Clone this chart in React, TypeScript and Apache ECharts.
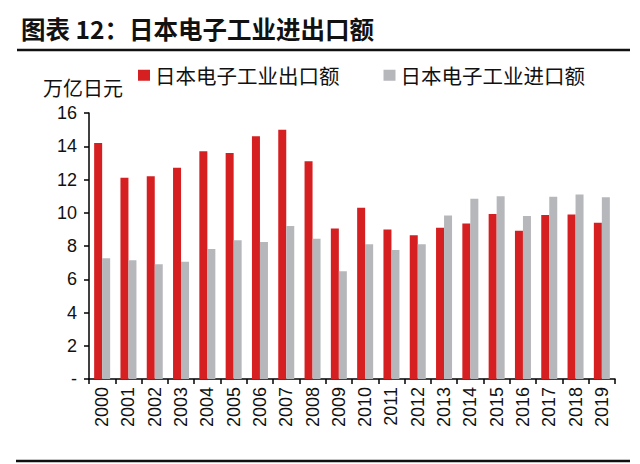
import React, { useEffect, useRef } from "react";
import * as echarts from "echarts";

const years = ["2000","2001","2002","2003","2004","2005","2006","2007","2008","2009","2010","2011","2012","2013","2014","2015","2016","2017","2018","2019"];
const exportValues = [14.2, 12.1, 12.2, 12.7, 13.7, 13.6, 14.6, 15.0, 13.1, 9.06, 10.3, 9.0, 8.64, 9.1, 9.36, 9.92, 8.92, 9.86, 9.9, 9.4];
const importValues = [7.26, 7.14, 6.9, 7.05, 7.82, 8.34, 8.24, 9.2, 8.44, 6.48, 8.1, 7.76, 8.1, 9.84, 10.84, 10.99, 9.8, 10.96, 11.1, 10.93];
const seriesNames = ["日本电子工业出口额", "日本电子工业进口额"];
const titleText = "图表 12：日本电子工业进出口额";
const unitText = "万亿日元";

export default function App() {
  const ref = useRef<HTMLDivElement>(null);
  useEffect(() => {
    document.body.style.margin = "0";
    const chart = echarts.init(ref.current!, null, { renderer: "svg" });
    chart.setOption({
      animation: false,
      backgroundColor: "#ffffff",
      textStyle: { fontFamily: "Liberation Sans, Arial, sans-serif" },
      graphic: [
        {
          type: "text",
          left: 21,
          top: 16,
          style: {
            text: titleText,
            font: "bold 24.5px 'Noto Sans CJK SC'",
            fill: "#111",
          },
        },
        {
          type: "line",
          shape: { x1: 17, y1: 50, x2: 630, y2: 50 },
          style: { stroke: "#111", lineWidth: 2.5 },
        },
        {
          type: "text",
          left: 43,
          top: 77,
          style: {
            text: unitText,
            font: "20px 'Noto Sans CJK SC'",
            fill: "#111",
          },
        },
        {
          type: "line",
          shape: { x1: 16, y1: 461, x2: 630, y2: 461 },
          style: { stroke: "#111", lineWidth: 2.5 },
        },
      ],
      legend: {
        left: 133,
        top: 60,
        itemWidth: 12,
        itemHeight: 11,
        itemGap: 44,
        icon: "rect",
        textStyle: { fontFamily: "Noto Sans CJK SC", fontSize: 20.5, color: "#111" },
        data: seriesNames,
      },
      grid: { left: 89, right: 25, top: 113, bottom: 85, containLabel: false },
      xAxis: {
        type: "category",
        data: years,
        axisLine: { lineStyle: { color: "#000", width: 1.5 } },
        axisTick: { show: true, length: 5, lineStyle: { color: "#000", width: 1.5 } },
        axisLabel: {
          rotate: 90,
          interval: 0,
          fontSize: 18,
          color: "#111",
          margin: 8,
        },
      },
      yAxis: {
        type: "value",
        min: 0,
        max: 16,
        interval: 2,
        axisLine: { show: true, lineStyle: { color: "#000", width: 1.5 } },
        axisTick: { show: true, length: 5, lineStyle: { color: "#000", width: 1.5 } },
        splitLine: { show: false },
        axisLabel: {
          fontSize: 18,
          color: "#111",
          margin: 12,
          formatter: (v: number) => (v === 0 ? "-" : String(v)),
        },
      },
      series: [
        {
          name: seriesNames[0],
          type: "bar",
          data: exportValues,
          barWidth: 8,
          barGap: "0%",
          itemStyle: { color: "#D51F20" },
        },
        {
          name: seriesNames[1],
          type: "bar",
          data: importValues,
          barWidth: 8,
          barGap: "0%",
          itemStyle: { color: "#B6B7BB" },
        },
      ],
    });
    return () => chart.dispose();
  }, []);
  return <div ref={ref} style={{ width: 640, height: 464 }} />;
}
